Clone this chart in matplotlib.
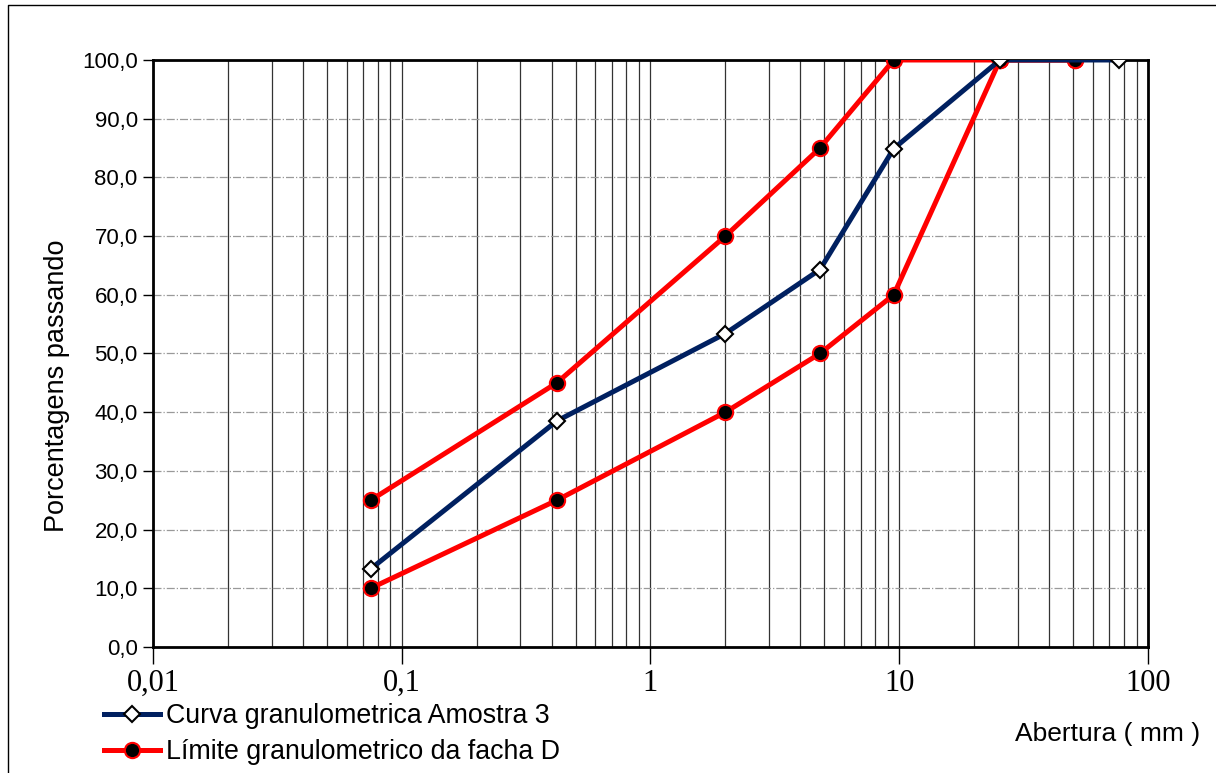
import numpy as np
import matplotlib.pyplot as plt
from matplotlib.ticker import FixedLocator, FuncFormatter, LogLocator, NullFormatter

# peneiras (mm)
abertura_amostra = [0.075, 0.42, 2.0, 4.8, 9.5, 25.4, 76.2]
passando_amostra = [13.3, 38.5, 53.4, 64.3, 84.9, 100.0, 100.0]

abertura_faixa = [0.075, 0.42, 2.0, 4.8, 9.5, 25.4, 50.8]
faixa_sup = [25.0, 45.0, 70.0, 85.0, 100.0, 100.0, 100.0]
faixa_inf = [10.0, 25.0, 40.0, 50.0, 60.0, 100.0, 100.0]

navy = '#002060'

fig = plt.figure(figsize=(12.16, 7.73), dpi=100)
ax = fig.add_axes([0.1258, 0.163, 0.8183, 0.7594])

ax.plot(abertura_faixa, faixa_sup, color='red', lw=3.6, marker='o', ms=11,
        mfc='black', mec='red', mew=1.5, zorder=3,
        label='Límite granulometrico da facha D')
ax.plot(abertura_faixa, faixa_inf, color='red', lw=3.6, marker='o', ms=11,
        mfc='black', mec='red', mew=1.5, zorder=3)
ax.plot(abertura_amostra, passando_amostra, color=navy, lw=3.6, marker='D', ms=8.5,
        mfc='white', mec='black', mew=1.5, zorder=4,
        label='Curva granulometrica Amostra 3')

ax.set_xscale('log')
ax.set_xlim(0.01, 100)
ax.set_ylim(0, 100)
ax.set_yticks(np.arange(0, 101, 10))
ax.yaxis.set_major_formatter(FuncFormatter(lambda v, p: f'{v:.1f}'.replace('.', ',')))
ax.xaxis.set_major_locator(FixedLocator([0.01, 0.1, 1, 10, 100]))
ax.xaxis.set_major_formatter(FuncFormatter(lambda v, p: f'{v:g}'.replace('.', ',')))
ax.xaxis.set_minor_locator(LogLocator(base=10, subs=np.arange(2, 10)))
ax.xaxis.set_minor_formatter(NullFormatter())

for lab in ax.get_xticklabels():
    lab.set_family('Liberation Serif')
    lab.set_fontsize(22)
for lab in ax.get_yticklabels():
    lab.set_family('Liberation Sans')
    lab.set_fontsize(16)

ax.tick_params(axis='x', which='major', length=12, width=1, direction='out', pad=4)
ax.tick_params(axis='x', which='minor', length=0)
ax.tick_params(axis='y', length=7, width=1, direction='out', pad=4)

ax.grid(axis='x', which='both', color='#333333', lw=0.9, ls='-')
ax.grid(axis='y', which='major', color='#999999', lw=0.9, ls='-.')
ax.set_axisbelow(True)
for s in ax.spines.values():
    s.set_linewidth(2)

ax.set_ylabel('Porcentagens passando', fontsize=19.5, family='Liberation Sans')
ax.yaxis.set_label_coords(-0.0835, 0.445)
fig.text(0.987, 0.051, 'Abertura ( mm )', fontsize=19, family='Liberation Sans',
         ha='right', va='center')

h, l = ax.get_legend_handles_labels()
fig.legend(h[::-1], l[::-1], loc='upper left', bbox_to_anchor=(0.0855, 0.090),
           frameon=False, prop={'family': 'Liberation Sans', 'size': 19.3},
           handlelength=2.1, handletextpad=0.2, labelspacing=0.36,
           borderpad=0, borderaxespad=0)

fig.add_artist(plt.Line2D([0.0066, 0.0066, 1.2], [-0.1, 0.9935, 0.9935],
                          transform=fig.transFigure, color='black', lw=1))

fig.savefig('out.png', dpi=100)
